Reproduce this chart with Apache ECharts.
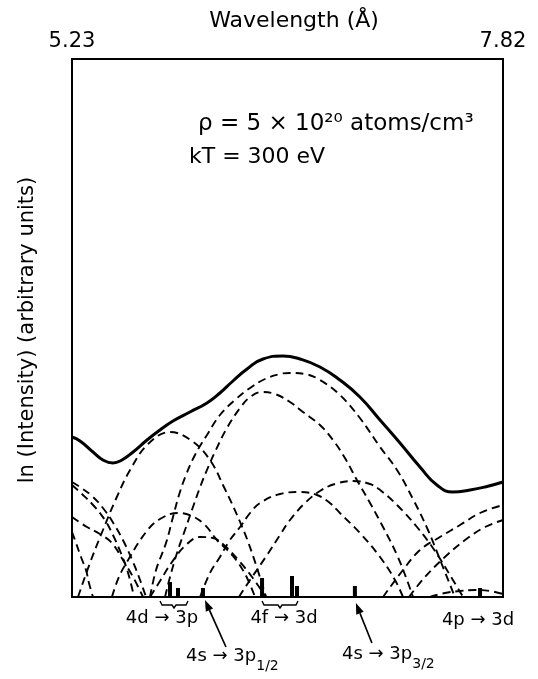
<!DOCTYPE html>
<html>
<head>
<meta charset="utf-8">
<script src="https://cdn.jsdelivr.net/npm/echarts@6/dist/echarts.min.js"></script>
<style>
html, body { margin: 0; padding: 0; background: #fff; }
#chart { width: 538px; height: 679px; }
</style>
</head>
<body>
<div id="chart"></div>
<script>
// wavelength range (Angstrom) and y range (ln intensity, arbitrary units)
var xMin = 5.23, xMax = 7.82;
var yMin = 0, yMax = 538;

// total spectrum (solid)
var total = [[5.230,160],[5.278,156],[5.356,145],[5.416,137],[5.476,134],[5.530,137],[5.597,145],
  [5.681,157],[5.759,167],[5.837,176],[5.939,185],[6.041,194],[6.119,204],[6.197,216],[6.282,228],
  [6.378,238],[6.498,241],[6.600,238],[6.720,230],[6.840,217],[6.960,200],[7.081,177],
  [7.201,154],[7.321,130],[7.423,112],[7.519,105],[7.622,107],[7.712,110],[7.820,115]];

// dashed component profiles
var c4d3p = [[5.266,0],[5.338,34],[5.416,67],[5.494,98],[5.579,127],[5.687,153],[5.819,165],
  [5.951,156],[6.059,137],[6.143,110],[6.240,75],[6.312,44],[6.396,0]];
var c4f3dUpper = [[5.699,0],[5.735,27],[5.795,54],[5.837,80],[5.873,102],[5.915,122],[5.969,142],
  [6.041,162],[6.119,182],[6.209,197],[6.300,209],[6.390,218],[6.480,223],[6.540,224],[6.630,223],
  [6.720,217],[6.840,202],[6.960,179],[7.081,150],[7.183,127],[7.279,98],[7.369,67],[7.447,35],[7.531,0]];
var c4f3dLower = [[5.789,0],[5.819,20],[5.861,44],[5.909,67],[5.957,90],[6.000,110],[6.041,127],
  [6.089,145],[6.161,169],[6.240,189],[6.300,200],[6.372,205],[6.450,203],[6.540,195],[6.618,185],
  [6.720,172],[6.798,157],[6.870,139],[6.942,117],[7.021,94],[7.099,70],[7.183,42],[7.243,17],[7.279,0]];
var cMid1 = [[6.000,0],[6.059,24],[6.119,40],[6.179,57],[6.240,70],[6.300,84],[6.360,94],[6.480,103],
  [6.600,105],[6.702,102],[6.780,94],[6.840,84],[6.960,64],[7.081,40],[7.171,17],[7.219,0]];
var cMid2 = [[6.233,0],[6.300,17],[6.402,42],[6.480,62],[6.540,77],[6.630,94],[6.720,106],[6.810,113],
  [6.918,116],[7.021,113],[7.081,107],[7.183,92],[7.303,70],[7.411,46],[7.519,17],[7.580,0]];
var cLow1 = [[5.470,0],[5.512,20],[5.567,37],[5.675,65],[5.759,78],[5.867,84],[5.951,81],[6.029,72],
  [6.101,57],[6.197,41],[6.270,23],[6.330,0]];
var cLow2 = [[5.699,0],[5.759,16],[5.831,35],[5.915,52],[6.000,60],[6.077,59],[6.143,52],[6.240,35],
  [6.312,20],[6.396,0]];
var cEdge1 = [[5.230,115],[5.278,110],[5.350,101],[5.416,89],[5.482,73],[5.542,55],[5.597,35],[5.639,17],[5.675,0]];
var cEdge2 = [[5.230,112],[5.290,103],[5.362,91],[5.428,77],[5.476,62],[5.524,44],[5.567,24],[5.603,0]];
var cEdge3 = [[5.230,80],[5.320,70],[5.398,63],[5.470,54],[5.536,37],[5.597,20],[5.657,0]];
var cEdge4 = [[5.230,65],[5.254,54],[5.284,40],[5.314,27],[5.332,14],[5.356,0]];
var cRight1 = [[7.099,0],[7.219,27],[7.321,47],[7.441,60],[7.562,72],[7.682,84],[7.820,92]];
var cRight2 = [[7.255,0],[7.351,20],[7.471,40],[7.592,57],[7.712,70],[7.820,77]];
var cRight3 = [[7.381,0],[7.471,4],[7.562,6],[7.652,7],[7.742,6],[7.820,3]];

// line positions (bars at the bottom)
var lineBars = [[5.819,15],[5.867,9],[6.017,9],[6.372,19],[6.552,21],[6.582,11],[6.930,11],[7.682,9]];

var FONT = 'DejaVu Sans';
var chart = echarts.init(document.getElementById('chart'));

function dashed(data) {
  return {
    type: 'line', data: data, smooth: 0.4, symbol: 'none', silent: true,
    lineStyle: { color: '#000', width: 1.9, type: [8, 5] }
  };
}

var option = {
  animation: false,
  backgroundColor: '#fff',
  grid: { left: 72, right: 35, top: 59, bottom: 82, show: true, borderColor: '#000', borderWidth: 2 },
  xAxis: {
    type: 'value', position: 'top', min: xMin, max: xMax, interval: xMax - xMin,
    axisLine: { show: false }, axisTick: { show: false }, splitLine: { show: false },
    axisLabel: {
      showMinLabel: true, showMaxLabel: true, margin: 7, color: '#000',
      fontFamily: FONT, fontSize: 21,
      formatter: function (v) { return v.toFixed(2); }
    }
  },
  yAxis: {
    type: 'value', min: yMin, max: yMax,
    axisLine: { show: false }, axisTick: { show: false }, splitLine: { show: false },
    axisLabel: { show: false }
  },
  series: [
    dashed(c4d3p), dashed(c4f3dUpper), dashed(c4f3dLower), dashed(cMid1), dashed(cMid2),
    dashed(cLow1), dashed(cLow2), dashed(cEdge1), dashed(cEdge2), dashed(cEdge3), dashed(cEdge4),
    dashed(cRight1), dashed(cRight2), dashed(cRight3),
    {
      type: 'line', data: total, smooth: 0.5, symbol: 'none', silent: true,
      lineStyle: { color: '#000', width: 3 }
    },
    {
      type: 'bar', data: lineBars, barWidth: 4, silent: true,
      itemStyle: { color: '#000' }
    }
  ]
};
chart.setOption(option);

// annotations placed from axis coordinates
function px(x, y) { return chart.convertToPixel({ gridIndex: 0 }, [x, y]); }
var base = px(xMin, 0)[1];

function txt(x, y, text, size, align) {
  return { type: 'text', silent: true,
    style: { text: text, x: x, y: y, font: size + 'px "' + FONT + '"', fill: '#000',
      align: align || 'center', verticalAlign: 'middle' } };
}
function brace(x1, x2, y0) {
  var m = (x1 + x2) / 2;
  return { type: 'polyline', silent: true,
    shape: { points: [[x1, y0], [x1 + 2, y0 + 4], [m - 2, y0 + 4], [m, y0 + 7], [m + 2, y0 + 4], [x2 - 2, y0 + 4], [x2, y0]] },
    style: { stroke: '#000', lineWidth: 1.4, fill: null } };
}
function arrow(tx, ty, hx, hy) {
  var ang = Math.atan2(hy - ty, hx - tx), L = 11, W = 4;
  var bx = hx - L * Math.cos(ang), by = hy - L * Math.sin(ang);
  var nx = -Math.sin(ang) * W, ny = Math.cos(ang) * W;
  return [
    { type: 'line', silent: true, shape: { x1: tx, y1: ty, x2: bx, y2: by }, style: { stroke: '#000', lineWidth: 1.7 } },
    { type: 'polygon', silent: true, shape: { points: [[hx, hy], [bx + nx, by + ny], [bx - nx, by - ny]] }, style: { fill: '#000' } }
  ];
}

var sub = {
  m: { fontFamily: FONT, fontSize: 18, lineHeight: 26, verticalAlign: 'top', color: '#000' },
  s: { fontFamily: FONT, fontSize: 14, lineHeight: 15, verticalAlign: 'bottom', color: '#000' }
};

var x4d = px(5.843, 0)[0], x4f = px(6.486, 0)[0], x4p = px(7.670, 0)[0];
var a12 = px(6.017, 0)[0], a32 = px(6.930, 0)[0];
var yLabel = txt(0, 0, 'ln (Intensity) (arbitrary units)', 21);
yLabel.x = 28; yLabel.y = 330; yLabel.rotation = Math.PI / 2;

var graphics = [
  txt(294, 21, 'Wavelength (Å)', 22),
  yLabel,
  txt(198, 124, 'ρ = 5 × 10²⁰ atoms/cm³', 23, 'left'),
  txt(189, 157, 'kT = 300 eV', 22, 'left'),
  brace(px(5.759, 0)[0], px(5.927, 0)[0], base + 4),
  brace(px(6.372, 0)[0], px(6.588, 0)[0], base + 4),
  txt(x4d - 12, base + 21, '4d → 3p', 18),
  txt(x4f + 3, base + 21, '4f → 3d', 18),
  txt(x4p, base + 23, '4p → 3d', 18),
  { type: 'text', x: 186, y: 647, silent: true,
    style: { text: '{m|4s → 3p}{s|1/2}', rich: sub, align: 'left', verticalAlign: 'top' } },
  { type: 'text', x: 342, y: 645, silent: true,
    style: { text: '{m|4s → 3p}{s|3/2}', rich: sub, align: 'left', verticalAlign: 'top' } }
];
graphics = graphics.concat(arrow(a12 + 23, base + 50, a12 + 2, base + 3));
graphics = graphics.concat(arrow(a32 + 17, base + 46, a32 + 1, base + 6));

chart.setOption({ graphic: { elements: graphics } });
</script>
</body>
</html>
